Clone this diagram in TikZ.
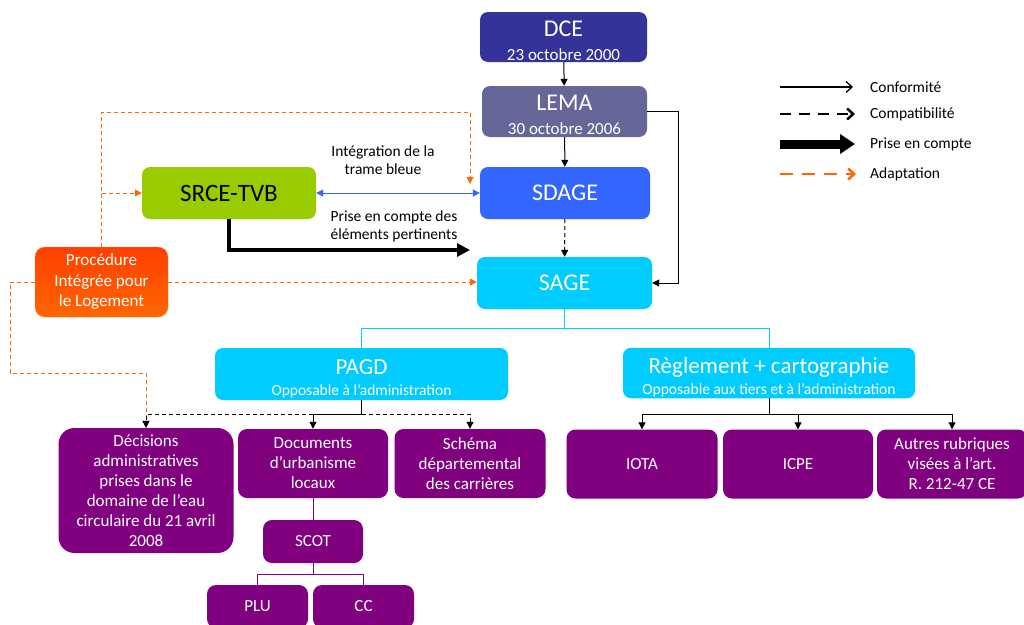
\documentclass[tikz,border=0pt]{standalone}
\usepackage{fontspec}
\setmainfont{Carlito}
\usetikzlibrary{arrows.meta}

\definecolor{dcecol}{HTML}{333399}
\definecolor{lemacol}{HTML}{666699}
\definecolor{sdagecol}{HTML}{3366FF}
\definecolor{sagecol}{HTML}{00CCFF}
\definecolor{srcecol}{HTML}{99CC00}
\definecolor{proccol}{HTML}{FF6600}
\definecolor{proctop}{HTML}{FF3F00}
\definecolor{docscol}{HTML}{800080}
\definecolor{adaptcol}{HTML}{FF6600}

\newcommand{\bigtxt}{\fontsize{24}{26}\selectfont}
\newcommand{\subtxt}{\fontsize{17}{19}\selectfont}
\newcommand{\midtxt}{\fontsize{15.5}{18}\selectfont}

\tikzset{
	box/.style={rectangle, rounded corners=8pt, text=white, align=center, inner sep=1pt, font=\bigtxt},
	docbox/.style={box, fill=docscol, rounded corners=9pt, font=\fontsize{17}{20}\selectfont},
	conform/.style={draw=black, line width=1pt, -{Triangle[length=7pt, width=7pt]}},
	compat/.style={conform, dashed, dash pattern=on 4pt off 3pt},
	adapt/.style={draw=adaptcol, line width=1pt, dash pattern=on 4pt off 3pt, -{Triangle[length=7pt, width=7pt]}},
	legend/.style={anchor=west, inner sep=0pt, font=\fontsize{15.5}{17}\selectfont}
}

\begin{document}
\begin{tikzpicture}[x=1pt, y=-1pt]
	\useasboundingbox (0,0) rectangle (1024,624);

	% niveau national
	\node[box, fill=dcecol, minimum width=167pt, minimum height=50pt] (dce) at (563.5,37) {\rule{0pt}{23pt}DCE\\[-2pt]{\subtxt 23 octobre 2000}};
	\node[box, fill=lemacol, minimum width=165pt, minimum height=51pt] (lema) at (564.5,111.5) {\rule{0pt}{23pt}LEMA\\[-2pt]{\subtxt 30 octobre 2006}};
	\node[box, fill=sdagecol, minimum width=170pt, minimum height=52pt] (sdage) at (565,193) {SDAGE};
	\node[box, fill=sagecol, minimum width=175pt, minimum height=52pt] (sage) at (564.5,283) {SAGE};
	\node[box, fill=srcecol, text=black, minimum width=174pt, minimum height=52pt, font=\fontsize{25}{27}\selectfont] (srce) at (229,193) {SRCE-TVB};
	\node[box, top color=proctop, bottom color=proccol, draw=proccol!80!white, rounded corners=10pt, minimum width=133pt, minimum height=70pt, font=\fontsize{17}{20.5}\selectfont] (proc) at (101.5,282) {Procédure\\Intégrée pour\\le Logement};

	% contenu du SAGE
	\node[box, fill=sagecol, minimum width=293pt, minimum height=52pt] (pagd) at (361.5,374) {\fontsize{23}{25}\selectfont\rule{0pt}{25pt}PAGD\\[-5pt]{\midtxt Opposable à l’administration}};
	\node[box, fill=sagecol, minimum width=292pt, minimum height=50pt] (regl) at (769,373) {\fontsize{23}{25}\selectfont\rule{0pt}{25pt}Règlement + cartographie\\[-5pt]{\midtxt Opposable aux tiers et à l’administration}};

	\node[docbox, minimum width=175pt, minimum height=125pt, rounded corners=16pt] (decis) at (146,490.5) {Décisions\\administratives\\prises dans le\\domaine de l’eau\\circulaire du 21 avril\\2008};
	\node[docbox, minimum width=150pt, minimum height=69pt] (docs) at (313,463.5) {Documents\\d’urbanisme\\locaux};
	\node[docbox, minimum width=151pt, minimum height=69pt] (schema) at (470,463.5) {Schéma\\départemental\\des carrières};
	\node[docbox, minimum width=100pt, minimum height=43pt] (scot) at (313,541.5) {SCOT};
	\node[docbox, minimum width=101pt, minimum height=43pt] (plu) at (257.5,606.5) {PLU};
	\node[docbox, minimum width=101pt, minimum height=43pt] (cc) at (363.5,606.5) {CC};
	\node[docbox, minimum width=151pt, minimum height=69pt] (iota) at (642,464) {IOTA};
	\node[docbox, minimum width=150pt, minimum height=69pt] (icpe) at (798,464) {ICPE};
	\node[docbox, minimum width=150pt, minimum height=69pt] (autres) at (952,464) {Autres rubriques\\visées à l’art.\\R. 212-47 CE};

	% liens hierarchiques
	\draw[conform] (dce) -- (lema);
	\draw[conform] (lema) -- (sdage);
	\draw[compat] (sdage) -- (sage);
	\draw[conform] (lema.east) -- ++(31,0) |- (sage.east);

	\draw[{Triangle[length=7pt, width=7pt]}-{Triangle[length=7pt, width=7pt]}, sdagecol, line width=1pt] (srce) -- (sdage);
	\node[align=center, font=\midtxt] (lbl trame) at (383,160) {Intégration de la\\trame bleue};
	\coordinate (prise end) at (470,250);
	\draw[line width=4pt, -{Triangle[length=13pt, width=13pt]}] (srce.south) |- (prise end);
	\node[align=center, font=\midtxt] (lbl prise) at (394,226) {Prise en compte des\\éléments pertinents};

	% adaptation
	\coordinate (adapt end) at (470,184);
	\coordinate (adapt bend) at (10,373);
	\draw[adapt] (proc.north) |- (adapt end |- 0,112) -- (adapt end);
	\draw[adapt] (proc.north |- srce.west) -- (srce.west);
	\draw[adapt] (proc.east) -- (sage.west |- proc.east);
	\draw[adapt] (proc.west) -| (adapt bend) -| (decis.north);

	% SAGE -> PAGD / reglement
	\draw[sagecol, line width=1pt] (sage.south) -- ++(0,19) coordinate (sage split) -| (pagd.north);
	\draw[sagecol, line width=1pt] (sage split) -| (regl.north);

	\draw[black, line width=1pt] (pagd.south) -- ++(0,14) coordinate (pagd split);
	\draw[compat] (pagd split) -| (decis.north);
	\draw[compat] (pagd split) -| (schema.north);
	\draw[conform] (pagd split) -| (docs.north);

	\draw[black, line width=1pt] (regl.south) -- ++(0,16) coordinate (regl split);
	\foreach \tgt in {iota, icpe, autres}
		\draw[conform] (regl split) -| (\tgt.north);

	\draw[docscol, line width=1pt] (docs) -- (scot);
	\draw[docscol, line width=1pt] (scot.south) -- ++(0,11) coordinate (scot split) -| (plu.north);
	\draw[docscol, line width=1pt] (scot split) -| (cc.north);

	% legende
	\node[legend] (leg conf) at (870,87) {Conformité};
	\node[legend] (leg compat) at (870,114) {Compatibilité};
	\node[legend] (leg prise) at (870,144) {Prise en compte};
	\node[legend] (leg adapt) at (870,174) {Adaptation};
	\draw[line width=1.3pt, -{Straight Barb[length=6pt, width=11pt]}] ([xshift=-90pt]leg conf.west) -- ([xshift=-17pt]leg conf.west);
	\draw[line width=2.5pt, dash pattern=on 11pt off 8pt, -{Straight Barb[length=6pt, width=11pt]}] ([xshift=-90pt]leg compat.west) -- ([xshift=-15pt]leg compat.west);
	\draw[line width=9pt, -{Triangle[length=15pt, width=19pt]}] ([xshift=-90pt]leg prise.west) -- ([xshift=-15pt]leg prise.west);
	\draw[adaptcol, line width=2.5pt, dash pattern=on 13pt off 9pt, -{Straight Barb[length=6pt, width=11pt]}] ([xshift=-90pt]leg adapt.west) -- ([xshift=-14pt]leg adapt.west);
\end{tikzpicture}
\end{document}
